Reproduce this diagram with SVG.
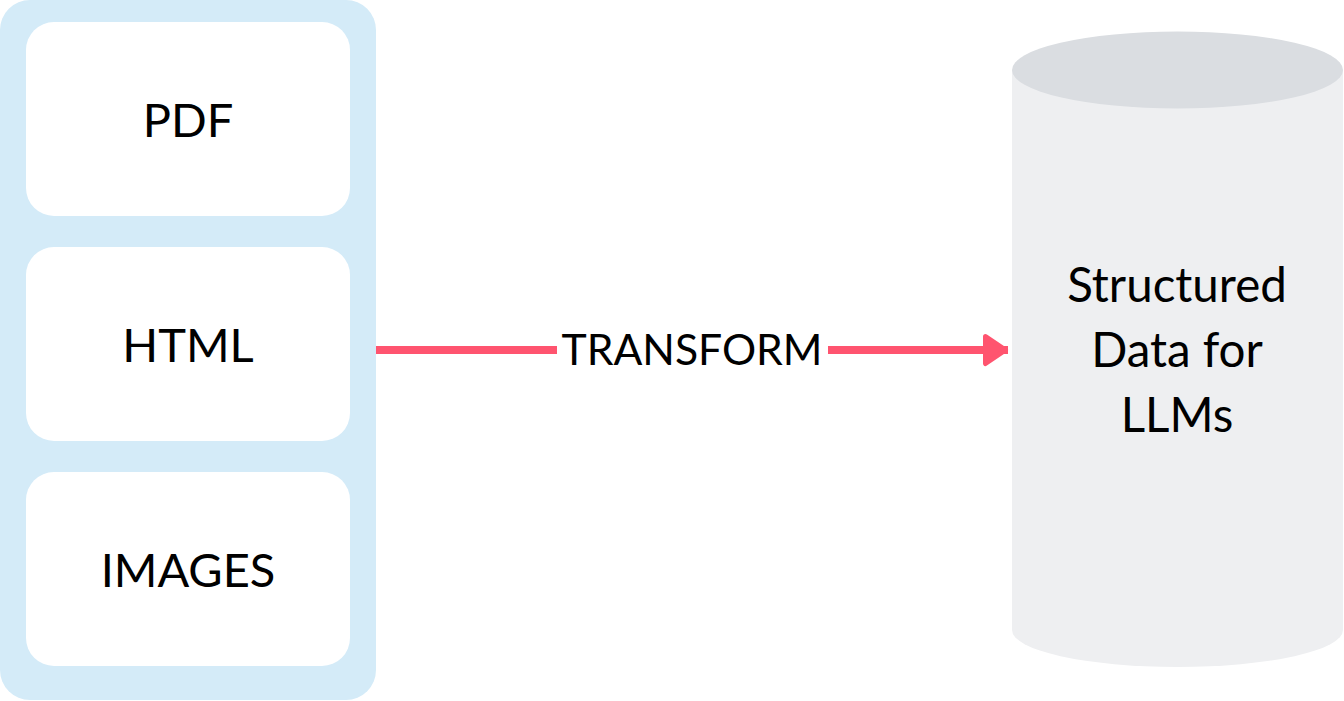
<svg xmlns="http://www.w3.org/2000/svg" width="1344" height="701" viewBox="0 0 1344 701">
<defs>
<style>
.lbl{font-family:Lato,"Liberation Sans",sans-serif;fill:#000;text-anchor:middle}
.box{fill:#fff}
.conn{stroke:#ff546f;stroke-width:8;fill:none}
</style>
<marker id="ah" markerUnits="userSpaceOnUse" markerWidth="30" markerHeight="36" refX="25.5" refY="16.5" orient="auto" viewBox="0 0 30 36">
<path d="M3,3 L23,16.5 L3,30 Z" fill="#ff546f" stroke="#ff546f" stroke-width="5" stroke-linejoin="round"/>
</marker>
</defs>
<rect width="1344" height="701" fill="#fff"/>
<g id="sources">
<rect x="0" y="0" width="376" height="700" rx="30" fill="#d4ebf8"/>
</g>
<g id="pdf">
<rect class="box" x="26" y="22" width="324" height="194" rx="28"/>
<text class="lbl" x="188" y="137" font-size="47">PDF</text>
</g>
<g id="html">
<rect class="box" x="26" y="247" width="324" height="194" rx="28"/>
<text class="lbl" x="188" y="362" font-size="47">HTML</text>
</g>
<g id="images">
<rect class="box" x="26" y="472" width="324" height="194" rx="28"/>
<text class="lbl" x="188" y="587" font-size="47">IMAGES</text>
</g>
<g id="structured">
<path d="M1012,70 L1012,630 A165.5,37 0 0 0 1343,630 L1343,70 Z" fill="#eeeff1"/>
<ellipse cx="1177.5" cy="70" rx="165.5" ry="38.5" fill="#dadde1"/>
<text class="lbl" font-size="47.5"><tspan x="1177" y="302">Structured</tspan><tspan x="1177" y="367">Data for</tspan><tspan x="1177" y="432">LLMs</tspan></text>
</g>
<g id="connectors">
<path class="conn" d="M376,350 L557,350"/>
<path class="conn" d="M828,350 L1008,350" marker-end="url(#ah)"/>
<text class="lbl" x="692" y="365" font-size="42.7">TRANSFORM</text>
</g>
</svg>
